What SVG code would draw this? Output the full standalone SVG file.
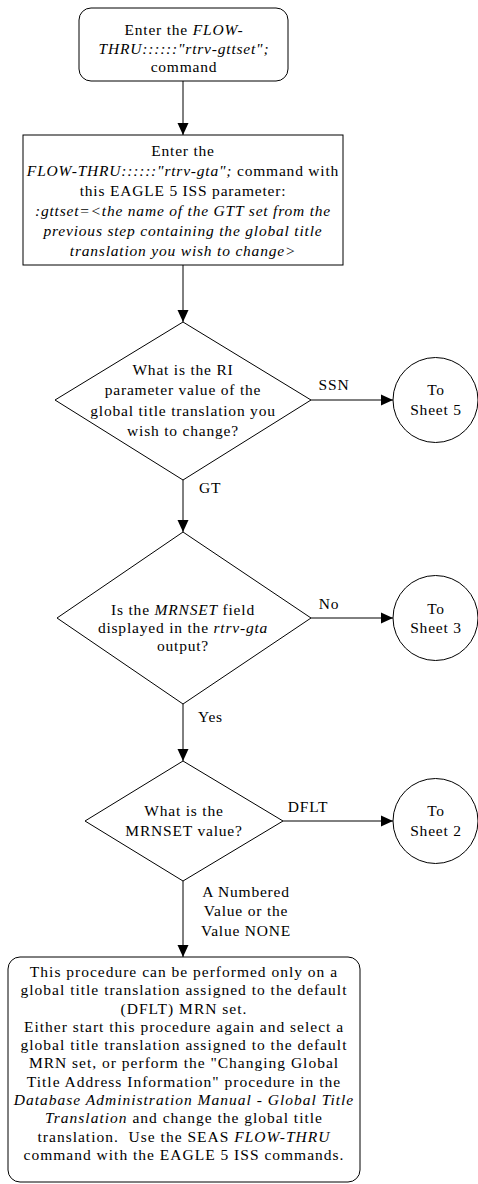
<svg xmlns="http://www.w3.org/2000/svg" width="478" height="1184" viewBox="0 0 478 1184">
<defs>
<marker id="arr" viewBox="0 0 12 12" refX="12" refY="6" markerWidth="12" markerHeight="12" markerUnits="userSpaceOnUse" orient="auto">
<path d="M0,0.5 L12,6 L0,11.5 z" fill="#000"/>
</marker>
<style>
.s{fill:#fff;stroke:#000;stroke-width:1}
.t{font-family:"Liberation Serif","Times New Roman",serif;font-size:15.5px;letter-spacing:0.8px;fill:#000;text-anchor:middle}
.l{font-family:"Liberation Serif","Times New Roman",serif;font-size:15.5px;letter-spacing:0.8px;fill:#000}
.w{letter-spacing:1px}
.i{font-style:italic}
.c{fill:none;stroke:#000;stroke-width:1;marker-end:url(#arr)}
</style>
</defs>
<rect width="478" height="1184" fill="#fff"/>
<g id="connectors">
<line class="c" x1="183" y1="81" x2="183" y2="135"/>
<line class="c" x1="183" y1="265" x2="183" y2="322"/>
<line class="c" x1="311" y1="400" x2="393" y2="400"/>
<line class="c" x1="183" y1="480" x2="183" y2="532"/>
<line class="c" x1="311" y1="618" x2="393" y2="618"/>
<line class="c" x1="183" y1="704" x2="183" y2="761"/>
<line class="c" x1="283" y1="821" x2="393" y2="821"/>
<line class="c" x1="183" y1="881" x2="183" y2="957"/>
<text class="t" x="334" y="390">SSN</text>
<text class="l" x="199" y="493">GT</text>
<text class="t" x="329" y="609">No</text>
<text class="l" x="198" y="722">Yes</text>
<text class="t" x="308" y="812">DFLT</text>
<text class="t" x="246" y="897">A Numbered</text>
<text class="t" x="246" y="916">Value or the</text>
<text class="t" x="246" y="936">Value NONE</text>
</g>
<g id="start">
<rect class="s" x="79" y="8" width="209" height="73" rx="12"/>
<text class="t" x="184" y="35">Enter the <tspan class="i">FLOW-</tspan></text>
<text class="t i" x="184" y="54">THRU::::::"rtrv-gttset";</text>
<text class="t" x="184" y="72">command</text>
</g>
<g id="enter-gta">
<rect class="s" x="23" y="135" width="320" height="130"/>
<text class="t" x="183" y="156">Enter the</text>
<text class="t" x="183" y="176"><tspan class="i">FLOW-THRU::::::"rtrv-gta";</tspan> command with</text>
<text class="t" x="183" y="196">this EAGLE 5 ISS parameter:</text>
<text class="t i" x="183" y="216">:gttset=&lt;the name of the GTT set from the</text>
<text class="t i" x="183" y="236">previous step containing the global title</text>
<text class="t i" x="183" y="256">translation you wish to change&gt;</text>
</g>
<g id="ri-decision">
<polygon class="s" points="183,322 311,400 183,480 55,400"/>
<text class="t" x="183" y="375">What is the RI</text>
<text class="t" x="183" y="395">parameter value of the</text>
<text class="t" x="183" y="416">global title translation you</text>
<text class="t" x="183" y="436">wish to change?</text>
</g>
<g id="sheet5">
<circle class="s" cx="435.5" cy="400" r="42.5"/>
<text class="t" x="436" y="395">To</text>
<text class="t" x="436" y="415">Sheet 5</text>
</g>
<g id="mrnset-decision">
<polygon class="s" points="183,532 311,618 183,704 57,618"/>
<text class="t" x="183" y="615">Is the <tspan class="i">MRNSET</tspan> field</text>
<text class="t" x="183" y="633">displayed in the <tspan class="i">rtrv-gta</tspan></text>
<text class="t" x="183" y="651">output?</text>
</g>
<g id="sheet3">
<circle class="s" cx="435.5" cy="618" r="42.5"/>
<text class="t" x="436" y="614">To</text>
<text class="t" x="436" y="633">Sheet 3</text>
</g>
<g id="value-decision">
<polygon class="s" points="183,761 283,821 183,881 85,821"/>
<text class="t" x="184" y="816">What is the</text>
<text class="t" x="184" y="836">MRNSET value?</text>
</g>
<g id="sheet2">
<circle class="s" cx="435.5" cy="821" r="42.5"/>
<text class="t" x="436" y="816">To</text>
<text class="t" x="436" y="836">Sheet 2</text>
</g>
<g id="end">
<rect class="s" x="8" y="957" width="352" height="225" rx="12"/>
<text class="t w" x="184" y="977">This procedure can be performed only on a</text>
<text class="t w" x="184" y="995">global title translation assigned to the default</text>
<text class="t w" x="184" y="1014">(DFLT) MRN set.</text>
<text class="t w" x="184" y="1032">Either start this procedure again and select a</text>
<text class="t w" x="184" y="1050">global title translation assigned to the default</text>
<text class="t w" x="184" y="1068">MRN set, or perform the "Changing Global</text>
<text class="t w" x="184" y="1087">Title Address Information" procedure in the</text>
<text class="t w i" x="184" y="1105">Database Administration Manual - Global Title</text>
<text class="t w" x="184" y="1123"><tspan class="i">Translation</tspan> and change the global title</text>
<text class="t w" x="184" y="1142" xml:space="preserve">translation.  Use the SEAS <tspan class="i">FLOW-THRU</tspan></text>
<text class="t w" x="184" y="1160">command with the EAGLE 5 ISS commands.</text>
</g>
</svg>
